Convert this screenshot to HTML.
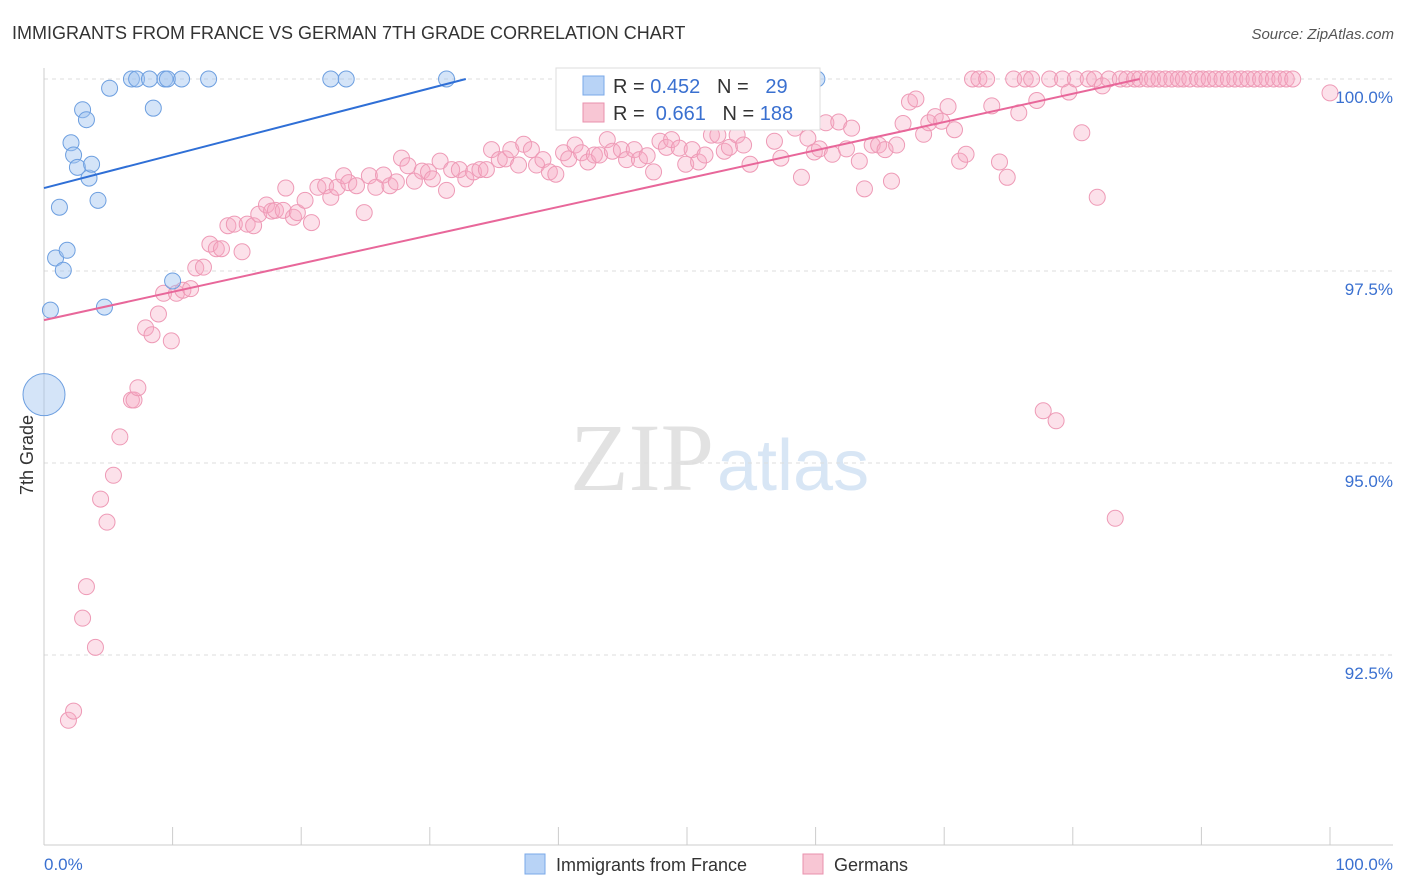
<!DOCTYPE html>
<html><head><meta charset="utf-8"><style>
body{margin:0;background:#fff;font-family:"Liberation Sans",sans-serif;}
#wrap{position:relative;width:1406px;height:892px;overflow:hidden;}
</style></head><body>
<div id="wrap">
<svg id="svg" width="1406" height="892">
<text x="12" y="39" font-size="18" fill="#333">IMMIGRANTS FROM FRANCE VS GERMAN 7TH GRADE CORRELATION CHART</text>
<text x="1394" y="39" font-size="15" fill="#555" font-style="italic" text-anchor="end">Source: ZipAtlas.com</text>
<text x="33" y="455" font-size="18" fill="#333" transform="rotate(-90 33 455)" text-anchor="middle">7th Grade</text>
<text x="714" y="490" font-size="96" fill="#e2e2e2" text-anchor="end" font-family="Liberation Serif,serif">ZIP</text>
<text x="717" y="490" font-size="72" fill="#d8e6f5">atlas</text>
<g id="grid"></g><g id="pts"></g><g id="lines"></g>
<g>
<rect x="556" y="68" width="264" height="62" fill="#fff" stroke="#ddd"/>
<rect x="583" y="76" width="21" height="19" fill="#b8d3f6" stroke="#7aa8e8"/>
<text x="613" y="93" font-size="20" fill="#333" xml:space="preserve">R = <tspan fill="#3a70d0">0.452</tspan>   N =   <tspan fill="#3a70d0">29</tspan></text>
<rect x="583" y="103" width="21" height="19" fill="#f8c6d4" stroke="#e990ad"/>
<text x="613" y="120" font-size="20" fill="#333" xml:space="preserve">R =  <tspan fill="#3a70d0">0.661</tspan>   N = <tspan fill="#3a70d0">188</tspan></text>
</g>
<rect x="525" y="854" width="20" height="20" fill="#b8d3f6" stroke="#7aa8e8"/>
<text x="556" y="871" font-size="18" fill="#333">Immigrants from France</text>
<rect x="803" y="854" width="20" height="20" fill="#f8c6d4" stroke="#e990ad"/>
<text x="834" y="871" font-size="18" fill="#333">Germans</text>
</svg></div>
<script>
const yTicks=[100,97.5,95,92.5];
const yTickLabels=["100.0%","97.5%","95.0%","92.5%"];
const xTickLabels=["0.0%","100.0%"];
const franceX=[0.5,0.9,1.2,1.5,1.8,2.1,2.3,2.6,3.0,3.3,3.5,3.7,4.2,4.7,5.1,6.8,7.2,8.2,8.5,9.4,9.6,10.0,10.7,12.8,22.3,23.5,31.3,60.1,0.0];
const franceY=[96.99,97.67,98.33,97.51,97.77,99.17,99.01,98.85,99.6,99.47,98.71,98.89,98.42,97.03,99.88,100,100,100,99.62,100,100,97.37,100,100,100,100,100,100,95.89];
const germX=[1.9,2.3,3.0,3.3,4.0,4.4,4.9,5.4,5.9,6.8,7.0,7.3,7.9,8.4,8.9,9.3,9.9,10.3,10.8,11.4,11.8,12.4,12.9,13.4,13.8,14.3,14.8,15.4,15.8,16.3,16.7,17.3,17.7,18.0,18.6,18.8,19.4,19.7,20.3,20.8,21.3,21.9,22.3,22.8,23.3,23.7,24.3,24.9,25.3,25.8,26.4,26.9,27.4,27.8,28.3,28.8,29.4,29.9,30.2,30.8,31.3,31.7,32.3,32.8,33.4,33.9,34.4,34.8,35.4,35.9,36.3,36.9,37.3,37.9,38.3,38.8,39.3,39.8,40.4,40.8,41.3,41.8,42.3,42.8,43.2,43.8,44.2,44.9,45.3,45.9,46.3,46.9,47.4,47.9,48.4,48.8,49.4,49.9,50.4,50.9,51.4,51.9,52.4,52.9,53.3,53.9,54.4,54.9,55.4,55.8,56.4,56.8,57.3,57.9,58.4,58.9,59.4,59.9,60.3,60.8,61.3,61.8,62.4,62.8,63.4,63.8,64.4,64.9,65.4,65.9,66.3,66.8,67.3,67.8,68.4,68.8,69.3,69.8,70.3,70.8,71.2,71.7,72.2,72.7,73.3,73.7,74.3,74.9,75.4,75.8,76.3,76.8,77.2,77.7,78.2,78.7,79.2,79.7,80.2,80.7,81.2,81.7,81.9,82.3,82.8,83.3,83.7,84.2,84.8,85.2,85.8,86.2,86.7,87.2,87.7,88.2,88.6,89.1,89.7,90.1,90.6,91.1,91.6,92.1,92.6,93.1,93.6,94.1,94.6,95.1,95.6,96.1,96.6,97.1,100];
const germY=[91.65,91.77,92.98,93.39,92.6,94.53,94.23,94.84,95.34,95.82,95.82,95.98,96.76,96.67,96.94,97.21,96.59,97.21,97.25,97.27,97.54,97.55,97.85,97.79,97.79,98.09,98.11,97.75,98.11,98.09,98.24,98.36,98.28,98.29,98.29,98.58,98.2,98.26,98.42,98.13,98.59,98.61,98.46,98.59,98.74,98.65,98.61,98.26,98.74,98.59,98.75,98.61,98.66,98.97,98.87,98.67,98.8,98.79,98.7,98.93,98.55,98.82,98.82,98.7,98.79,98.82,98.82,99.08,98.95,98.96,99.08,98.88,99.15,99.08,98.88,98.95,98.79,98.76,99.04,98.96,99.14,99.04,98.92,99.01,99.01,99.21,99.06,99.08,98.95,99.08,98.95,99.0,98.79,99.19,99.11,99.21,99.1,98.89,99.08,98.92,99.01,99.27,99.27,99.06,99.11,99.27,99.14,98.89,99.52,99.57,99.54,99.19,98.97,99.56,99.36,98.72,99.23,99.05,99.09,99.43,99.02,99.44,99.09,99.36,98.93,98.57,99.14,99.14,99.08,98.67,99.14,99.42,99.7,99.74,99.28,99.43,99.51,99.45,99.64,99.34,98.93,99.02,100,100,100,99.65,98.92,98.72,100,99.56,100,100,99.72,95.68,100,95.55,100,99.83,100,99.3,100,100,98.46,99.91,100,94.28,100,100,100,100,100,100,100,100,100,100,100,100,100,100,100,100,100,100,100,100,100,100,100,100,100,100,100,100,99.82];
const trendFrance=[98.58,100,0,32.8];
const trendGerm=[96.86,100,0,85.2];
const NS="http://www.w3.org/2000/svg";
const X=v=>44+v*12.86, Y=v=>79+(100-v)*76.8;
function mk(t,a,p){const e=document.createElementNS(NS,t);for(const k in a)e.setAttribute(k,a[k]);document.getElementById(p).appendChild(e);return e;}
yTicks.forEach((t,i)=>{
 const l=mk('line',{x1:44,x2:1393,y1:Y(t),y2:Y(t),stroke:'#ddd','stroke-dasharray':'4,4'},'grid');
 
 
 const tx=mk('text',{x:1393,y:Y(t)+24,'font-size':17,fill:'#3a70d0','text-anchor':'end'},'grid');tx.textContent=yTickLabels[i];
 
 
});
const ax=mk('line',{x1:44,x2:1393,y1:845,y2:845,stroke:'#ccc'},'grid');


const ay=mk('line',{x1:44,x2:44,y1:68,y2:845,stroke:'#ccc'},'grid');


for(let i=0;i<=10;i++){const t=mk('line',{x1:X(i*10),x2:X(i*10),y1:827,y2:845,stroke:'#ccc'},'grid');
 
 }
[[0,'start',44],[100,'end',1393]].forEach((d,i)=>{const t=mk('text',{x:d[2],y:870,'font-size':17,fill:'#3a70d0','text-anchor':d[1]},'grid');t.textContent=xTickLabels[i];
 
 });
germX.forEach((x,i)=>{const c=mk('circle',{cx:X(x),cy:Y(germY[i]),r:8,fill:'rgba(246,170,195,0.35)',stroke:'#ee9ab6','stroke-width':1},'pts');
 
 });
franceX.forEach((x,i)=>{const big=i===franceX.length-1;const c=mk('circle',{cx:X(x),cy:Y(franceY[i]),r:big?21:8,fill:'rgba(160,196,240,0.45)',stroke:'#6d9fe0','stroke-width':1},'pts');
 
 });
const l1=mk('line',{x1:X(trendFrance[2]),y1:Y(trendFrance[0]),x2:X(trendFrance[3]),y2:Y(trendFrance[1]),stroke:'#2f6fd6','stroke-width':2},'lines');


const l2=mk('line',{x1:X(trendGerm[2]),y1:Y(trendGerm[0]),x2:X(trendGerm[3]),y2:Y(trendGerm[1]),stroke:'#e8679a','stroke-width':2},'lines');


</script>
</body></html>
